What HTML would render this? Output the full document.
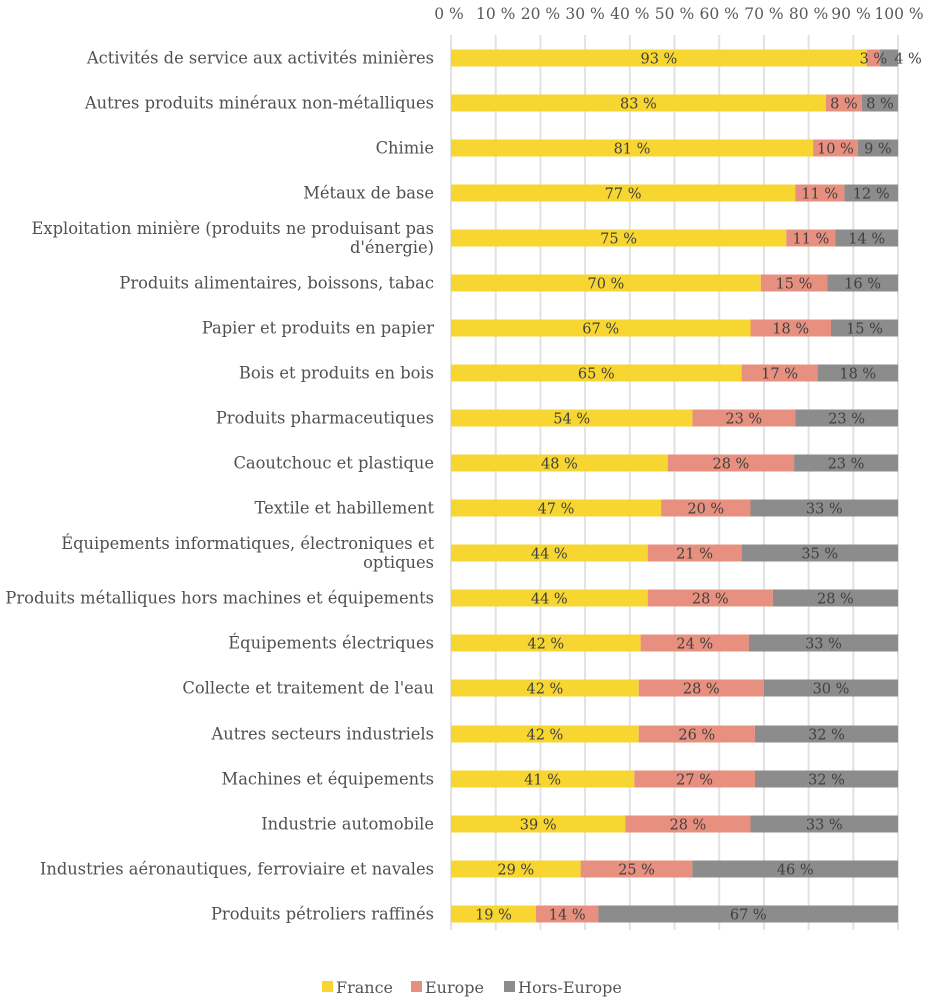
<!DOCTYPE html>
<html><head><meta charset="utf-8"><style>
body{margin:0;background:#fff}
svg text{font-family:"DejaVu Serif","Liberation Serif",serif;fill:#404040}
.l{font-size:16.3px;text-anchor:end;fill:#505050}
.v{font-size:14.5px;text-anchor:middle}
.t{font-size:15.5px;text-anchor:middle;fill:#595959}
</style></head><body>
<svg width="935" height="1000" xmlns="http://www.w3.org/2000/svg">
<g stroke="#e2e2e2" stroke-width="2">
<line x1="451" y1="35" x2="451" y2="930"/><line x1="495.7" y1="35" x2="495.7" y2="930"/><line x1="540.4" y1="35" x2="540.4" y2="930"/><line x1="585.1" y1="35" x2="585.1" y2="930"/><line x1="629.8" y1="35" x2="629.8" y2="930"/><line x1="674.5" y1="35" x2="674.5" y2="930"/><line x1="719.2" y1="35" x2="719.2" y2="930"/><line x1="763.9" y1="35" x2="763.9" y2="930"/><line x1="808.6" y1="35" x2="808.6" y2="930"/><line x1="853.3" y1="35" x2="853.3" y2="930"/><line x1="898" y1="35" x2="898" y2="930"/>
</g>
<g>
<text class="t" x="449" y="19">0 %</text><text class="t" x="495.7" y="19">10 %</text><text class="t" x="540.4" y="19">20 %</text><text class="t" x="585.1" y="19">30 %</text><text class="t" x="629.8" y="19">40 %</text><text class="t" x="674.5" y="19">50 %</text><text class="t" x="719.2" y="19">60 %</text><text class="t" x="763.9" y="19">70 %</text><text class="t" x="808.6" y="19">80 %</text><text class="t" x="851" y="19">90 %</text><text class="t" x="899" y="19">100 %</text>
</g>
<g>
<rect x="451" y="49.5" width="415.7" height="17" fill="#F7D631"/><rect x="866.7" y="49.5" width="13.4" height="17" fill="#E8907F"/><rect x="880.1" y="49.5" width="17.9" height="17" fill="#8C8C8C"/>
<text class="v" x="658.9" y="63.5">93 %</text><text class="v" x="873.4" y="63.5">3 %</text><text class="v" x="908" y="63.5">4 %</text>
<text class="l" x="434" y="63.5">Activités de service aux activités minières</text>

<rect x="451" y="94.5" width="374.8" height="17" fill="#F7D631"/><rect x="825.8" y="94.5" width="36.1" height="17" fill="#E8907F"/><rect x="861.9" y="94.5" width="36.1" height="17" fill="#8C8C8C"/>
<text class="v" x="638.4" y="108.5">83 %</text><text class="v" x="843.9" y="108.5">8 %</text><text class="v" x="880" y="108.5">8 %</text>
<text class="l" x="434" y="108.5">Autres produits minéraux non-métalliques</text>

<rect x="451" y="139.5" width="362.1" height="17" fill="#F7D631"/><rect x="813.1" y="139.5" width="44.7" height="17" fill="#E8907F"/><rect x="857.8" y="139.5" width="40.2" height="17" fill="#8C8C8C"/>
<text class="v" x="632" y="153.5">81 %</text><text class="v" x="835.4" y="153.5">10 %</text><text class="v" x="877.9" y="153.5">9 %</text>
<text class="l" x="434" y="153.5">Chimie</text>

<rect x="451" y="184.5" width="344.2" height="17" fill="#F7D631"/><rect x="795.2" y="184.5" width="49.2" height="17" fill="#E8907F"/><rect x="844.4" y="184.5" width="53.6" height="17" fill="#8C8C8C"/>
<text class="v" x="623.1" y="198.5">77 %</text><text class="v" x="819.8" y="198.5">11 %</text><text class="v" x="871.2" y="198.5">12 %</text>
<text class="l" x="434" y="198.5">Métaux de base</text>

<rect x="451" y="229.5" width="335.3" height="17" fill="#F7D631"/><rect x="786.3" y="229.5" width="49.2" height="17" fill="#E8907F"/><rect x="835.5" y="229.5" width="62.5" height="17" fill="#8C8C8C"/>
<text class="v" x="618.6" y="243.5">75 %</text><text class="v" x="810.9" y="243.5">11 %</text><text class="v" x="866.7" y="243.5">14 %</text>
<text class="l" x="434" y="234">Exploitation minière (produits ne produisant pas</text><text class="l" x="434" y="253">d'énergie)</text>

<rect x="451" y="274.5" width="309.8" height="17" fill="#F7D631"/><rect x="760.8" y="274.5" width="66.4" height="17" fill="#E8907F"/><rect x="827.2" y="274.5" width="70.8" height="17" fill="#8C8C8C"/>
<text class="v" x="605.9" y="288.5">70 %</text><text class="v" x="794" y="288.5">15 %</text><text class="v" x="862.6" y="288.5">16 %</text>
<text class="l" x="434" y="288.5">Produits alimentaires, boissons, tabac</text>

<rect x="451" y="319.5" width="299.5" height="17" fill="#F7D631"/><rect x="750.5" y="319.5" width="80.5" height="17" fill="#E8907F"/><rect x="831" y="319.5" width="67" height="17" fill="#8C8C8C"/>
<text class="v" x="600.7" y="333.5">67 %</text><text class="v" x="790.7" y="333.5">18 %</text><text class="v" x="864.5" y="333.5">15 %</text>
<text class="l" x="434" y="333.5">Papier et produits en papier</text>

<rect x="451" y="364.5" width="290.6" height="17" fill="#F7D631"/><rect x="741.6" y="364.5" width="76" height="17" fill="#E8907F"/><rect x="817.6" y="364.5" width="80.4" height="17" fill="#8C8C8C"/>
<text class="v" x="596.3" y="378.5">65 %</text><text class="v" x="779.6" y="378.5">17 %</text><text class="v" x="857.8" y="378.5">18 %</text>
<text class="l" x="434" y="378.5">Bois et produits en bois</text>

<rect x="451" y="409.5" width="241.4" height="17" fill="#F7D631"/><rect x="692.4" y="409.5" width="102.8" height="17" fill="#E8907F"/><rect x="795.2" y="409.5" width="102.8" height="17" fill="#8C8C8C"/>
<text class="v" x="571.7" y="423.5">54 %</text><text class="v" x="743.8" y="423.5">23 %</text><text class="v" x="846.6" y="423.5">23 %</text>
<text class="l" x="434" y="423.5">Produits pharmaceutiques</text>

<rect x="451" y="454.5" width="216.7" height="17" fill="#F7D631"/><rect x="667.7" y="454.5" width="126.4" height="17" fill="#E8907F"/><rect x="794.1" y="454.5" width="103.9" height="17" fill="#8C8C8C"/>
<text class="v" x="559.4" y="468.5">48 %</text><text class="v" x="730.9" y="468.5">28 %</text><text class="v" x="846" y="468.5">23 %</text>
<text class="l" x="434" y="468.5">Caoutchouc et plastique</text>

<rect x="451" y="499.5" width="210.1" height="17" fill="#F7D631"/><rect x="661.1" y="499.5" width="89.4" height="17" fill="#E8907F"/><rect x="750.5" y="499.5" width="147.5" height="17" fill="#8C8C8C"/>
<text class="v" x="556" y="513.5">47 %</text><text class="v" x="705.8" y="513.5">20 %</text><text class="v" x="824.3" y="513.5">33 %</text>
<text class="l" x="434" y="513.5">Textile et habillement</text>

<rect x="451" y="544.5" width="196.7" height="17" fill="#F7D631"/><rect x="647.7" y="544.5" width="93.9" height="17" fill="#E8907F"/><rect x="741.6" y="544.5" width="156.4" height="17" fill="#8C8C8C"/>
<text class="v" x="549.3" y="558.5">44 %</text><text class="v" x="694.6" y="558.5">21 %</text><text class="v" x="819.8" y="558.5">35 %</text>
<text class="l" x="434" y="549">Équipements informatiques, électroniques et</text><text class="l" x="434" y="568">optiques</text>

<rect x="451" y="589.5" width="196.7" height="17" fill="#F7D631"/><rect x="647.7" y="589.5" width="125.2" height="17" fill="#E8907F"/><rect x="772.9" y="589.5" width="125.1" height="17" fill="#8C8C8C"/>
<text class="v" x="549.3" y="603.5">44 %</text><text class="v" x="710.3" y="603.5">28 %</text><text class="v" x="835.4" y="603.5">28 %</text>
<text class="l" x="434" y="603.5">Produits métalliques hors machines et équipements</text>

<rect x="451" y="634.5" width="189.6" height="17" fill="#F7D631"/><rect x="640.6" y="634.5" width="108.4" height="17" fill="#E8907F"/><rect x="749" y="634.5" width="149" height="17" fill="#8C8C8C"/>
<text class="v" x="545.8" y="648.5">42 %</text><text class="v" x="694.8" y="648.5">24 %</text><text class="v" x="823.5" y="648.5">33 %</text>
<text class="l" x="434" y="648.5">Équipements électriques</text>

<rect x="451" y="679.5" width="187.7" height="17" fill="#F7D631"/><rect x="638.7" y="679.5" width="125.2" height="17" fill="#E8907F"/><rect x="763.9" y="679.5" width="134.1" height="17" fill="#8C8C8C"/>
<text class="v" x="544.9" y="693.5">42 %</text><text class="v" x="701.3" y="693.5">28 %</text><text class="v" x="831" y="693.5">30 %</text>
<text class="l" x="434" y="693.5">Collecte et traitement de l'eau</text>

<rect x="451" y="725.5" width="187.7" height="17" fill="#F7D631"/><rect x="638.7" y="725.5" width="116.2" height="17" fill="#E8907F"/><rect x="754.9" y="725.5" width="143.1" height="17" fill="#8C8C8C"/>
<text class="v" x="544.9" y="739.5">42 %</text><text class="v" x="696.8" y="739.5">26 %</text><text class="v" x="826.5" y="739.5">32 %</text>
<text class="l" x="434" y="739.5">Autres secteurs industriels</text>

<rect x="451" y="770.5" width="183.3" height="17" fill="#F7D631"/><rect x="634.3" y="770.5" width="120.7" height="17" fill="#E8907F"/><rect x="755" y="770.5" width="143" height="17" fill="#8C8C8C"/>
<text class="v" x="542.6" y="784.5">41 %</text><text class="v" x="694.6" y="784.5">27 %</text><text class="v" x="826.5" y="784.5">32 %</text>
<text class="l" x="434" y="784.5">Machines et équipements</text>

<rect x="451" y="815.5" width="174.3" height="17" fill="#F7D631"/><rect x="625.3" y="815.5" width="125.2" height="17" fill="#E8907F"/><rect x="750.5" y="815.5" width="147.5" height="17" fill="#8C8C8C"/>
<text class="v" x="538.2" y="829.5">39 %</text><text class="v" x="687.9" y="829.5">28 %</text><text class="v" x="824.3" y="829.5">33 %</text>
<text class="l" x="434" y="829.5">Industrie automobile</text>

<rect x="451" y="860.5" width="129.6" height="17" fill="#F7D631"/><rect x="580.6" y="860.5" width="111.8" height="17" fill="#E8907F"/><rect x="692.4" y="860.5" width="205.6" height="17" fill="#8C8C8C"/>
<text class="v" x="515.8" y="874.5">29 %</text><text class="v" x="636.5" y="874.5">25 %</text><text class="v" x="795.2" y="874.5">46 %</text>
<text class="l" x="434" y="874.5">Industries aéronautiques, ferroviaire et navales</text>

<rect x="451" y="905.5" width="84.9" height="17" fill="#F7D631"/><rect x="535.9" y="905.5" width="62.6" height="17" fill="#E8907F"/><rect x="598.5" y="905.5" width="299.5" height="17" fill="#8C8C8C"/>
<text class="v" x="493.5" y="919.5">19 %</text><text class="v" x="567.2" y="919.5">14 %</text><text class="v" x="748.3" y="919.5">67 %</text>
<text class="l" x="434" y="919.5">Produits pétroliers raffinés</text>
</g>
<g>
<rect x="322" y="981" width="11" height="11" fill="#F7D631"/><text x="336" y="993" style="font-size:16px;fill:#555">France</text>
<rect x="411" y="981" width="11" height="11" fill="#E8907F"/><text x="425" y="993" style="font-size:16px;fill:#555">Europe</text>
<rect x="504" y="981" width="11" height="11" fill="#8C8C8C"/><text x="518" y="993" style="font-size:16px;fill:#555">Hors-Europe</text>
</g>
</svg>
</body></html>
